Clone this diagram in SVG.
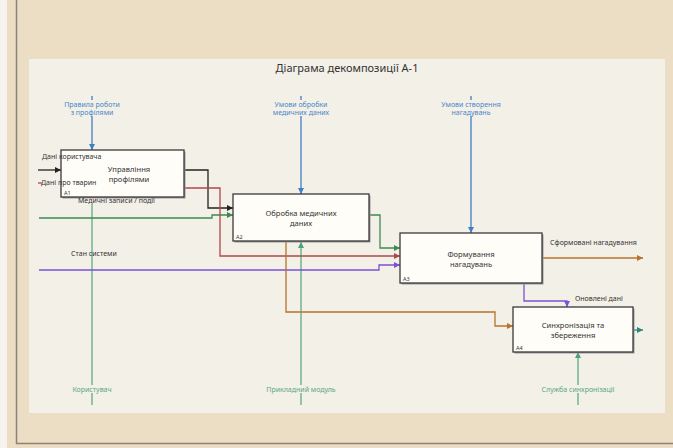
<svg xmlns="http://www.w3.org/2000/svg" width="673" height="448" viewBox="0 0 673 448">
  <style>
    .lbl { font-family: "Noto Sans", "DejaVu Sans", sans-serif; font-size: 7px; }
    .dark { fill: #333; }
    .ctl { fill: #4a86c8; }
    .mech { fill: #5aa87c; }
    .box { fill: #fffdf8; stroke: #3a3a3a; stroke-width: 1.3; }
    .shadow { fill: #9a9a9a; }
    .name { font-family: "Noto Sans", "DejaVu Sans", sans-serif; font-size: 7.6px; fill: #333; text-anchor: middle; }
    .num { font-family: "Noto Sans", "DejaVu Sans", sans-serif; font-size: 5.5px; fill: #333; }
    .ln { fill: none; stroke-width: 1.3; }
  </style>
  <defs>
    <marker id="ah-black" viewBox="0 0 10 10" refX="10" refY="5" markerWidth="6" markerHeight="6" orient="auto" markerUnits="userSpaceOnUse"><path d="M0,0 L10,5 L0,10 z" fill="#222"/></marker>
    <marker id="ah-blue" viewBox="0 0 10 10" refX="10" refY="5" markerWidth="6" markerHeight="6" orient="auto" markerUnits="userSpaceOnUse"><path d="M0,0 L10,5 L0,10 z" fill="#3f7fc4"/></marker>
    <marker id="ah-green" viewBox="0 0 10 10" refX="10" refY="5" markerWidth="6" markerHeight="6" orient="auto" markerUnits="userSpaceOnUse"><path d="M0,0 L10,5 L0,10 z" fill="#3d8a4f"/></marker>
    <marker id="ah-mech" viewBox="0 0 10 10" refX="10" refY="5" markerWidth="6" markerHeight="6" orient="auto" markerUnits="userSpaceOnUse"><path d="M0,0 L10,5 L0,10 z" fill="#4aa37a"/></marker>
    <marker id="ah-red" viewBox="0 0 10 10" refX="10" refY="5" markerWidth="6" markerHeight="6" orient="auto" markerUnits="userSpaceOnUse"><path d="M0,0 L10,5 L0,10 z" fill="#b04848"/></marker>
    <marker id="ah-purple" viewBox="0 0 10 10" refX="10" refY="5" markerWidth="6" markerHeight="6" orient="auto" markerUnits="userSpaceOnUse"><path d="M0,0 L10,5 L0,10 z" fill="#7a52d6"/></marker>
    <marker id="ah-brown" viewBox="0 0 10 10" refX="10" refY="5" markerWidth="6" markerHeight="6" orient="auto" markerUnits="userSpaceOnUse"><path d="M0,0 L10,5 L0,10 z" fill="#b8732e"/></marker>
    <marker id="ah-teal" viewBox="0 0 10 10" refX="10" refY="5" markerWidth="6" markerHeight="6" orient="auto" markerUnits="userSpaceOnUse"><path d="M0,0 L10,5 L0,10 z" fill="#2a8a7c"/></marker>
  </defs>

  <!-- page background and frame -->
  <rect x="0" y="0" width="673" height="448" fill="#ebdec4"/>
  <rect x="0" y="0" width="7" height="448" fill="#f6f3ec"/>
  <path d="M16.5,0 V443.5 H673" fill="none" stroke="#8a8478" stroke-width="1.5"/>
  <rect x="29" y="59" width="636" height="354" fill="#f3f0e8"/>

  <text x="347" y="72" font-family="Noto Sans, DejaVu Sans, sans-serif" font-size="11" fill="#333" text-anchor="middle">Діаграма декомпозиції А-1</text>

  <!-- connectors -->
  <g id="connectors">
    <!-- controls -->
    <path class="ln" stroke="#3f7fc4" d="M92,96 V100 M92,116 V150" marker-end="url(#ah-blue)"/>
    <path class="ln" stroke="#3f7fc4" d="M301,96 V100 M301,116 V194" marker-end="url(#ah-blue)"/>
    <path class="ln" stroke="#3f7fc4" d="M471,96 V100 M471,116 V233" marker-end="url(#ah-blue)"/>

    <!-- mechanisms -->
    <path class="ln" stroke="#5aae82" d="M92,204 V385 M92,393 V405"/>
    <path class="ln" stroke="#5aae82" d="M301,405 V393 M301,385 V242" marker-end="url(#ah-mech)"/>
    <path class="ln" stroke="#5aae82" d="M578,405 V393 M578,385 V352" marker-end="url(#ah-mech)"/>

    <!-- external inputs -->
    <path class="ln" stroke="#222" d="M38,170 H61" marker-end="url(#ah-black)"/>
    <path class="ln" stroke="#b04848" d="M38,183 H42"/>
    <path class="ln" stroke="#3d8a4f" d="M39,218 H212 V215 H233" marker-end="url(#ah-green)"/>
    <path class="ln" stroke="#7a52d6" d="M39,270 H379 V265 H400" marker-end="url(#ah-purple)"/>

    <!-- A1 outputs -->
    <path class="ln" stroke="#222" d="M184,170 H208 V208 H233" marker-end="url(#ah-black)"/>
    <path class="ln" stroke="#b04848" d="M184,188 H220 V256 H400" marker-end="url(#ah-red)"/>

    <!-- A2 outputs -->
    <path class="ln" stroke="#3d8a4f" d="M369,215 H380 V248 H400" marker-end="url(#ah-green)"/>
    <path class="ln" stroke="#b8732e" d="M286,241 V312 H495 V326 H513" marker-end="url(#ah-brown)"/>

    <!-- A3 outputs -->
    <path class="ln" stroke="#b8732e" d="M542,258 H643" marker-end="url(#ah-brown)"/>
    <path class="ln" stroke="#7a52d6" d="M524,283 V301 H567 V307" marker-end="url(#ah-purple)"/>

    <!-- A4 output -->
    <path class="ln" stroke="#2a8a7c" d="M633,330 H643" marker-end="url(#ah-teal)"/>
  </g>

  <!-- activity boxes -->
  <g id="A1">
    <rect class="shadow" x="62.5" y="151.5" width="123" height="47"/>
    <rect class="box" x="61" y="150" width="123" height="47"/>
    <text class="name" x="129" y="171.5">Управління</text>
    <text class="name" x="129" y="181.5">профілями</text>
    <text class="num" x="64" y="195">A1</text>
  </g>
  <g id="A2">
    <rect class="shadow" x="234.5" y="195.5" width="136" height="47"/>
    <rect class="box" x="233" y="194" width="136" height="47"/>
    <text class="name" x="301" y="215.5">Обробка медичних</text>
    <text class="name" x="301" y="225.5">даних</text>
    <text class="num" x="236" y="239">A2</text>
  </g>
  <g id="A3">
    <rect class="shadow" x="401.5" y="234.5" width="142" height="50"/>
    <rect class="box" x="400" y="233" width="142" height="50"/>
    <text class="name" x="471" y="256.5">Формування</text>
    <text class="name" x="471" y="266.5">нагадувань</text>
    <text class="num" x="403" y="281">A3</text>
  </g>
  <g id="A4">
    <rect class="shadow" x="514.5" y="308.5" width="120" height="45"/>
    <rect class="box" x="513" y="307" width="120" height="45"/>
    <text class="name" x="573" y="328">Синхронізація та</text>
    <text class="name" x="573" y="338">збереження</text>
    <text class="num" x="516" y="350">A4</text>
  </g>

  <!-- connector labels, drawn on top of the boxes -->
  <g id="labels">
    <text class="lbl ctl" x="92" y="107" text-anchor="middle">Правила роботи</text>
    <text class="lbl ctl" x="92" y="114.5" text-anchor="middle">з профілями</text>
    <text class="lbl ctl" x="301" y="107" text-anchor="middle">Умови обробки</text>
    <text class="lbl ctl" x="301" y="114.5" text-anchor="middle">медичних даних</text>
    <text class="lbl ctl" x="471" y="107" text-anchor="middle">Умови створення</text>
    <text class="lbl ctl" x="471" y="114.5" text-anchor="middle">нагадувань</text>

    <text class="lbl mech" x="92" y="391.5" text-anchor="middle">Користувач</text>
    <text class="lbl mech" x="301" y="391.5" text-anchor="middle">Прикладний модуль</text>
    <text class="lbl mech" x="578" y="391.5" text-anchor="middle">Служба синхронізації</text>

    <text class="lbl dark" x="42" y="159">Дані користувача</text>
    <text class="lbl dark" x="41" y="185">Дані про тварин</text>
    <text class="lbl dark" x="78" y="203">Медичні записи / події</text>
    <text class="lbl dark" x="71" y="256">Стан системи</text>
    <text class="lbl dark" x="550" y="244.5">Сформовані нагадування</text>
    <text class="lbl dark" x="575" y="300.5">Оновлені дані</text>
  </g>
</svg>
